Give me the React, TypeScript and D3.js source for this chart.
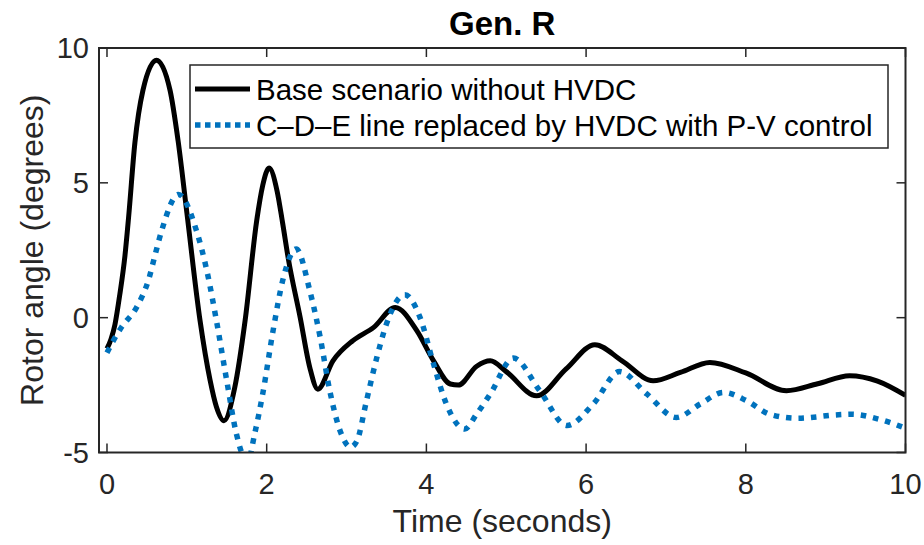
import React from "react";
import * as d3 from "d3";

const baseT = [0, 0.05, 0.1, 0.16, 0.225, 0.27, 0.35, 0.45, 0.62, 0.79, 0.89, 1.0, 1.165, 1.29, 1.37, 1.465, 1.6, 1.73, 1.875, 1.95, 2.03, 2.13, 2.2, 2.27, 2.42, 2.54, 2.64, 2.83, 3.08, 3.34, 3.61, 3.88, 4.09, 4.3, 4.4, 4.63, 4.8, 5.0, 5.38, 5.75, 6.11, 6.45, 6.84, 7.18, 7.55, 8.0, 8.51, 8.9, 9.3, 9.65, 10];
const baseV = [-1.15, -0.8, -0.25, 0.85, 2.3, 3.7, 6.5, 8.43, 9.55, 8.43, 6.57, 3.9, -0.1, -2.3, -3.3, -3.82, -2.59, -0.1, 3.6, 4.9, 5.55, 4.7, 3.5, 2.2, 0.0, -1.85, -2.65, -1.6, -0.85, -0.36, 0.38, -0.48, -1.6, -2.46, -2.5, -1.8, -1.6, -2.0, -2.9, -1.9, -1.0, -1.6, -2.34, -2.03, -1.66, -2.05, -2.71, -2.45, -2.15, -2.35, -2.88];

const hvdcT = [0, 0.08, 0.18, 0.37, 0.53, 0.6, 0.685, 0.895, 1.12, 1.25, 1.37, 1.5, 1.62, 1.76, 1.85, 1.95, 2.08, 2.2, 2.37, 2.54, 2.67, 2.79, 2.92, 3.05, 3.13, 3.25, 3.38, 3.5, 3.73, 3.92, 4.09, 4.25, 4.48, 4.63, 4.8, 5.09, 5.42, 5.76, 6.09, 6.42, 6.76, 7.13, 7.43, 7.72, 8.01, 8.3, 8.64, 9.16, 9.33, 9.66, 10];
const hvdcV = [-1.3, -0.85, -0.36, 0.38, 1.5, 2.3, 3.23, 4.57, 3.23, 1.75, -0.1, -2.34, -4.3, -5.35, -4.3, -2.83, -0.48, 1.37, 2.55, 1.0, -0.73, -2.71, -4.2, -4.8, -4.57, -3.08, -1.47, -0.23, 0.85, 0.01, -1.72, -3.2, -4.13, -3.57, -2.83, -1.5, -2.71, -4.0, -3.2, -2.0, -2.83, -3.7, -3.2, -2.77, -3.08, -3.58, -3.73, -3.6, -3.58, -3.76, -4.1];

const xTicks = [0, 2, 4, 6, 8, 10];
const yTicks = [-5, 0, 5, 10];
const legendLabels = ["Base scenario without HVDC", "C\u2013D\u2013E line replaced by HVDC with P-V control"];
const title = "Gen. R";
const xLabel = "Time (seconds)";
const yLabel = "Rotor angle (degrees)";

const W = 924, H = 545;
const L = 99, R = 905.5, T = 48, B = 452.5;
const axisColor = "#262626";
const font = "'Liberation Sans', Arial, sans-serif";

export default function App() {
  const x = d3.scaleLinear().domain([-0.1, 10]).range([L, R]);
  const y = d3.scaleLinear().domain([-5, 10]).range([B, T]);
  const line = d3.line<[number, number]>().x(d => x(d[0])).y(d => y(d[1])).curve(d3.curveMonotoneX);
  const basePts = baseT.map((t, i) => [t, baseV[i]] as [number, number]);
  const hvdcPts = hvdcT.map((t, i) => [t, hvdcV[i]] as [number, number]);
  const tl = 9;
  return (
    <svg width={W} height={H} style={{ position: "absolute", left: 0, top: 0, background: "#fff" }} fontFamily={font}>
      <defs>
        <clipPath id="plotclip"><rect x={L} y={T} width={R - L} height={B - T} /></clipPath>
      </defs>
      <rect x={0} y={0} width={W} height={H} fill="#fff" />
      <g clipPath="url(#plotclip)">
        <path d={line(basePts) || ""} fill="none" stroke="#000" strokeWidth={5} strokeLinejoin="round" />
        <path d={line(hvdcPts) || ""} fill="none" stroke="#0072BD" strokeWidth={5.5} strokeDasharray="5.5 7" />
      </g>
      <rect x={L} y={T} width={R - L} height={B - T} fill="none" stroke={axisColor} strokeWidth={2} />
      {xTicks.map(t => (
        <g key={"x" + t}>
          <line x1={x(t)} x2={x(t)} y1={B} y2={B - tl} stroke={axisColor} strokeWidth={1.5} />
          <line x1={x(t)} x2={x(t)} y1={T} y2={T + tl} stroke={axisColor} strokeWidth={1.5} />
          <text x={x(t)} y={494} textAnchor="middle" fontSize={29} fill={axisColor}>{t}</text>
        </g>
      ))}
      {yTicks.map(v => (
        <g key={"y" + v}>
          <line x1={L} x2={L + tl} y1={y(v)} y2={y(v)} stroke={axisColor} strokeWidth={1.5} />
          <line x1={R} x2={R - tl} y1={y(v)} y2={y(v)} stroke={axisColor} strokeWidth={1.5} />
          <text x={89} y={y(v) + 10} textAnchor="end" fontSize={29} fill={axisColor}>{v}</text>
        </g>
      ))}
      <text x={(L + R) / 2} y={35} textAnchor="middle" fontSize={33} fontWeight="bold" fill="#000">{title}</text>
      <text x={(L + R) / 2} y={532} textAnchor="middle" fontSize={32} fill={axisColor}>{xLabel}</text>
      <text transform={`translate(43,${(T + B) / 2}) rotate(-90)`} textAnchor="middle" fontSize={32} fill={axisColor}>{yLabel}</text>
      <g>
        <rect x={190} y={65} width={698} height={83} fill="#fff" stroke={axisColor} strokeWidth={1.5} />
        <line x1={195} x2={250} y1={89} y2={89} stroke="#000" strokeWidth={5} />
        <line x1={195} x2={250} y1={125} y2={125} stroke="#0072BD" strokeWidth={5.5} strokeDasharray="5.5 4.5" />
        <text x={256} y={100} fontSize={29.5} fill="#000">{legendLabels[0]}</text>
        <text x={256} y={136} fontSize={29.5} fill="#000">{legendLabels[1]}</text>
      </g>
    </svg>
  );
}
